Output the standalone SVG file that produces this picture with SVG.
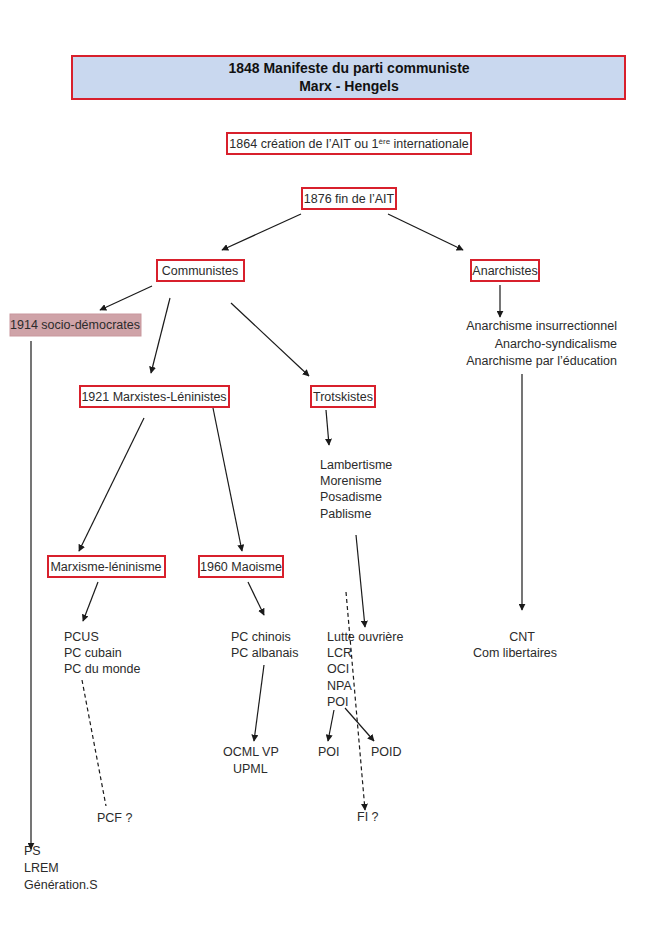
<svg xmlns="http://www.w3.org/2000/svg" width="672" height="950" viewBox="0 0 672 950">
<defs>
<style>
text{font-family:"Liberation Sans",Arial,sans-serif;font-size:12.5px;fill:#2b2b2b}
.b{font-weight:bold;font-size:14px;fill:#111}
.box{fill:#fff;stroke:#d8202c;stroke-width:2}
.ln{stroke:#1a1a1a;stroke-width:1.2;fill:none}
.ar{marker-end:url(#ah)}
.d{stroke-dasharray:4 3}
.m{text-anchor:middle}
.e{text-anchor:end}
</style>
<marker id="ah" viewBox="0 0 10 10" refX="9" refY="5" markerWidth="7" markerHeight="7" orient="auto" markerUnits="userSpaceOnUse">
<path d="M0,0 L10,5 L0,10 z" fill="#1a1a1a"/>
</marker>
</defs>
<rect width="672" height="950" fill="#fff"/>
<g id="n1848">
<rect x="72" y="56" width="553" height="43" fill="#c9d8ef" stroke="#d8202c" stroke-width="2"/>
<text class="b m" x="349" y="73">1848 Manifeste du parti communiste</text>
<text class="b m" x="349" y="91">Marx - Hengels</text>
</g>
<g id="n1864">
<rect class="box" x="227" y="133" width="244" height="21"/>
<text class="m" x="349" y="148">1864 création de l’AIT ou 1<tspan dy="-4" font-size="8">ère</tspan><tspan dy="4"> internationale</tspan></text>
</g>
<g id="n1876">
<rect class="box" x="302" y="188" width="94" height="21"/>
<text class="m" x="349" y="203">1876 fin de l’AIT</text>
</g>
<g id="communistes">
<rect class="box" x="157" y="260" width="87" height="21"/>
<text class="m" x="200" y="275">Communistes</text>
</g>
<g id="anarchistes">
<rect class="box" x="471" y="260" width="68" height="21"/>
<text class="m" x="505" y="275">Anarchistes</text>
</g>
<g id="anarchismes">
<text class="e" x="617" y="330">Anarchisme insurrectionnel</text>
<text class="e" x="617" y="348">Anarcho-syndicalisme</text>
<text class="e" x="617" y="365">Anarchisme par l’éducation</text>
</g>
<g id="socio">
<rect x="10" y="314" width="131" height="22" fill="#cfa3a8" stroke="#c9979d" stroke-width="1"/>
<text class="m" x="75" y="329">1914 socio-démocrates</text>
</g>
<g id="ml1921">
<rect class="box" x="80" y="386" width="149" height="21"/>
<text class="m" x="154" y="401">1921 Marxistes-Léninistes</text>
</g>
<g id="trotskistes">
<rect class="box" x="311" y="386" width="64" height="21"/>
<text class="m" x="343" y="401">Trotskistes</text>
</g>
<g id="trotsk-list">
<text x="320" y="469">Lambertisme</text>
<text x="320" y="485">Morenisme</text>
<text x="320" y="501">Posadisme</text>
<text x="320" y="518">Pablisme</text>
</g>
<g id="mlism">
<rect class="box" x="48" y="556" width="117" height="21"/>
<text class="m" x="106" y="571">Marxisme-léninisme</text>
</g>
<g id="maoisme">
<rect class="box" x="199" y="556" width="84" height="21"/>
<text class="m" x="241" y="571">1960 Maoisme</text>
</g>
<g id="pcus">
<text x="64" y="641">PCUS</text>
<text x="64" y="657">PC cubain</text>
<text x="64" y="673">PC du monde</text>
</g>
<g id="pcchinois">
<text x="231" y="641">PC chinois</text>
<text x="231" y="657">PC albanais</text>
</g>
<g id="lutte">
<text x="327" y="641">Lutte ouvrière</text>
<text x="327" y="657">LCR</text>
<text x="327" y="673">OCI</text>
<text x="327" y="690">NPA</text>
<text x="327" y="706">POI</text>
</g>
<g id="cnt">
<text class="m" x="522" y="641">CNT</text>
<text class="m" x="515" y="657">Com libertaires</text>
</g>
<g id="ocml">
<text x="223" y="756">OCML VP</text>
<text x="233" y="773">UPML</text>
</g>
<g id="poi"><text x="318" y="756">POI</text></g>
<g id="poid"><text x="371" y="756">POID</text></g>
<g id="pcf"><text x="97" y="822">PCF ?</text></g>
<g id="fi"><text x="357" y="821">FI ?</text></g>
<g id="ps">
<text x="24" y="855">PS</text>
<text x="24" y="872">LREM</text>
<text x="24" y="889">Génération.S</text>
</g>
<g id="connectors">
<line class="ln ar" x1="301" y1="214" x2="222" y2="250"/>
<line class="ln ar" x1="388" y1="214" x2="463" y2="250"/>
<line class="ln ar" x1="500" y1="285" x2="500" y2="317"/>
<line class="ln ar" x1="152" y1="286" x2="100" y2="310"/>
<line class="ln ar" x1="170" y1="298" x2="151" y2="373"/>
<line class="ln ar" x1="231" y1="303" x2="309" y2="376"/>
<line class="ln ar" x1="31" y1="341" x2="31" y2="849"/>
<line class="ln ar" x1="522" y1="374" x2="522" y2="610"/>
<line class="ln ar" x1="144" y1="418" x2="79" y2="551"/>
<line class="ln ar" x1="213" y1="408" x2="242" y2="551"/>
<line class="ln ar" x1="326" y1="410" x2="329" y2="445"/>
<line class="ln ar" x1="356" y1="535" x2="365" y2="627"/>
<line class="ln ar d" x1="346" y1="592" x2="365" y2="810"/>
<line class="ln ar" x1="98" y1="582" x2="83" y2="621"/>
<line class="ln ar" x1="248" y1="582" x2="264" y2="615"/>
<line class="ln d" x1="82" y1="680" x2="106" y2="806"/>
<line class="ln ar" x1="264" y1="665" x2="254" y2="741"/>
<line class="ln ar" x1="334" y1="710" x2="328" y2="741"/>
<line class="ln ar" x1="345" y1="708" x2="374" y2="741"/>
</g>
</svg>
